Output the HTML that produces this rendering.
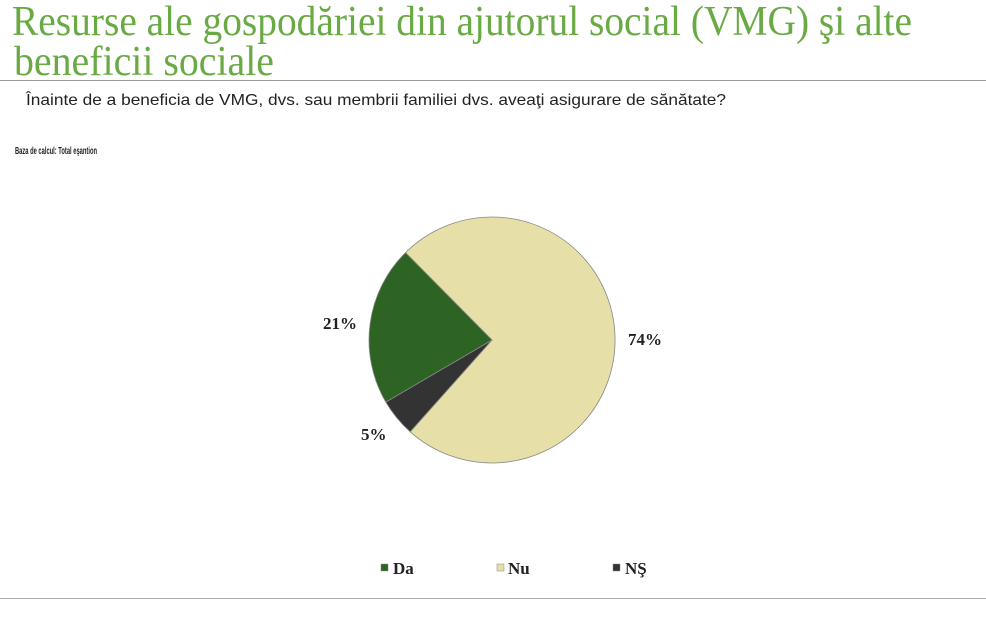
<!DOCTYPE html>
<html><head><meta charset="utf-8"><style>html,body{margin:0;padding:0;background:#fff;width:986px;height:626px;overflow:hidden}</style></head>
<body>
<svg width="986" height="626" viewBox="0 0 986 626" xmlns="http://www.w3.org/2000/svg">
<rect width="986" height="626" fill="#fff"/>
<g font-family="'Liberation Serif', serif" fill="#6aaa44" font-size="42">
<text x="12" y="35" textLength="900" lengthAdjust="spacingAndGlyphs">Resurse ale gospodăriei din ajutorul social (VMG) şi alte</text>
<text x="14" y="75" textLength="260" lengthAdjust="spacingAndGlyphs">beneficii sociale</text>
</g>
<line x1="0" y1="80.5" x2="986" y2="80.5" stroke="#999" stroke-width="1"/>
<text x="26" y="105" font-family="'Liberation Sans', sans-serif" font-size="16" fill="#222" textLength="700" lengthAdjust="spacingAndGlyphs">Înainte de a beneficia de VMG, dvs. sau membrii familiei dvs. aveaţi asigurare de sănătate?</text>
<text x="15" y="154" font-family="'Liberation Sans', sans-serif" font-size="10" font-weight="bold" fill="#222" textLength="82" lengthAdjust="spacingAndGlyphs">Baza de calcul: Total eşantion</text>
<g stroke="#888" stroke-width="0.8">
<path d="M492,340 L405.5,252.6 A123,123 0 1 1 410.2,431.8 Z" fill="#e6dfa7"/>
<path d="M492,340 L410.2,431.8 A123,123 0 0 1 385.8,402.1 Z" fill="#333333"/>
<path d="M492,340 L385.8,402.1 A123,123 0 0 1 405.5,252.6 Z" fill="#2d6424"/>
</g>
<g font-family="'Liberation Serif', serif" font-weight="bold" font-size="17" fill="#222">
<text x="323" y="329">21%</text>
<text x="628" y="345">74%</text>
<text x="361" y="440">5%</text>
<rect x="381" y="564" width="7" height="7" fill="#2d6424" stroke="#888" stroke-width="0.5"/>
<text x="393" y="574">Da</text>
<rect x="497" y="564" width="7" height="7" fill="#e6dfa7" stroke="#888" stroke-width="0.5"/>
<text x="508" y="574">Nu</text>
<rect x="613" y="564" width="7" height="7" fill="#333" stroke="#888" stroke-width="0.5"/>
<text x="625" y="574">NŞ</text>
</g>
<line x1="0" y1="598.5" x2="986" y2="598.5" stroke="#aaa" stroke-width="1"/>
</svg>
</body></html>
